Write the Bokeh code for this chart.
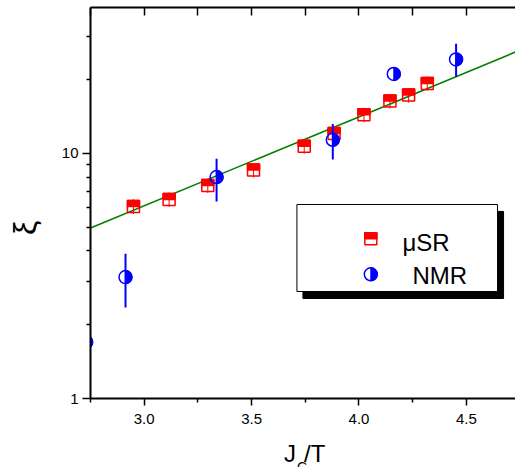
import math
from bokeh.plotting import figure
from bokeh.models import (Range1d, LogAxis, LinearAxis, FixedTicker,
                          PrintfTickFormatter, Label)
from bokeh.embed import file_html
from bokeh.resources import INLINE

# ---------------- data ----------------
musr_x = [2.95, 3.116, 3.296, 3.509, 3.745, 3.884, 4.023, 4.144, 4.231, 4.318]
musr_y = [6.08, 6.49, 7.40, 8.56, 10.71, 12.06, 14.38, 16.35, 17.3, 19.3]
musr_err = [0.42, 0.44, 0.50, 0.58, 0.73, 0.82, 0.98, 1.10, 1.18, 1.30]

nmr_x = [2.73, 2.913, 3.337, 3.878, 4.162, 4.452]
nmr_y = [1.70, 3.13, 8.01, 11.37, 21.1, 24.2]
nmr_lo = [float("nan"), 2.35, 6.37, 9.45, float("nan"), 20.6]
nmr_hi = [float("nan"), 3.90, 9.51, 13.2, float("nan"), 28.0]

fit_x = [2.75, 4.75]
fit_y = [4.96, 26.4]

x_ticks = [3.0, 3.5, 4.0, 4.5]
x_minor = [2.75, 3.25, 3.75, 4.25, 4.75]
y_ticks = [1, 10]
y_minor = [2, 3, 4, 5, 6, 7, 8, 9, 20, 30]

legend_labels = ["\u03bcSR", "NMR"]
x_title = ["J", "C", "/T"]
y_title = "\u03be"

# ---------------- layout ----------------
W, H = 515, 467
FL, FT, FB = 89, 7, 398          # frame left / top / bottom (canvas px)
X0, X1 = 2.75, 4.7286
Y0, Y1 = 1.0, 39.4
PX_PER_DEC = (FB - FT) / math.log10(Y1 / Y0)
HALF_UP = 10 ** (3.0 / PX_PER_DEC)   # 3 screen px upward on the log axis

FONT = "Liberation Sans"
RED = "#FF0000"
BLUE = "#0000FF"
GREEN = "#008000"

p = figure(width=W, height=H, x_range=Range1d(X0, X1), y_range=Range1d(Y0, Y1),
           y_axis_type="log", x_axis_location=None, y_axis_location=None,
           output_backend="svg", toolbar_location=None,
           min_border_left=FL, min_border_right=0, min_border_top=FT,
           min_border_bottom=H - FB)
p.outline_line_color = None
p.background_fill_color = "white"
p.border_fill_color = "white"
for g in list(p.center):
    if g.__class__.__name__ == "Grid":
        g.visible = False

# axes
yax = LogAxis(ticker=FixedTicker(ticks=y_ticks, minor_ticks=y_minor),
              formatter=PrintfTickFormatter(format="%d"))
yax.axis_line_width = 2
yax.major_tick_out = 8
yax.major_tick_in = 0
yax.minor_tick_out = 4
yax.minor_tick_in = 0
yax.major_tick_line_width = 1.5
yax.minor_tick_line_width = 1.5
yax.major_label_standoff = 4
yax.major_label_text_font = FONT
yax.major_label_text_font_size = "15px"
yax.major_label_text_color = "black"
p.add_layout(yax, "left")

xax = LinearAxis(ticker=FixedTicker(ticks=x_ticks, minor_ticks=x_minor),
                 formatter=PrintfTickFormatter(format="%.1f"))
xax.axis_line_width = 2
xax.major_tick_out = 7
xax.major_tick_in = 0
xax.minor_tick_out = 4
xax.minor_tick_in = 0
xax.major_tick_line_width = 1.5
xax.minor_tick_line_width = 1.5
xax.major_label_standoff = 8
xax.major_label_text_font = FONT
xax.major_label_text_font_size = "15px"
xax.major_label_text_color = "black"
p.add_layout(xax, "below")

tax = LinearAxis(ticker=FixedTicker(ticks=x_ticks + x_minor, minor_ticks=[]))
tax.axis_line_width = 2
tax.major_tick_out = 0
tax.major_tick_in = 8
tax.minor_tick_out = 0
tax.minor_tick_in = 0
tax.major_tick_line_width = 1.5
tax.major_label_text_font_size = "0px"
tax.major_label_text_color = None
tax.major_label_standoff = 0
p.add_layout(tax, "above")


def musr_marker(xs, ys):
    p.scatter(xs, ys, marker="square", size=12, fill_color=None,
              line_color=RED, line_width=1.5)
    p.rect(x=xs, y=[v * HALF_UP for v in ys], width=12, height=6,
           width_units="screen", height_units="screen",
           fill_color=RED, line_color=RED, line_width=1.5)


def nmr_marker(xs, ys):
    p.scatter(xs, ys, marker="circle", size=13, fill_color=None,
              line_color=BLUE, line_width=1.5)
    p.wedge(x=xs, y=ys, radius=6.5, radius_units="screen",
            start_angle=-math.pi / 2, end_angle=math.pi / 2,
            fill_color=BLUE, line_color=BLUE, line_width=1)


# fit line
p.line(fit_x, fit_y, line_color=GREEN, line_width=1.6)

# muSR
p.segment(x0=musr_x, y0=[y - e for y, e in zip(musr_y, musr_err)],
          x1=musr_x, y1=[y + e for y, e in zip(musr_y, musr_err)],
          line_color=RED, line_width=1)
musr_marker(musr_x, musr_y)

# NMR
nmr_marker(nmr_x, nmr_y)
p.segment(x0=nmr_x, y0=nmr_lo, x1=nmr_x, y1=nmr_hi, line_color=BLUE, line_width=2)

# legend box with shadow
p.quad(left=[3.739], right=[4.673], top=[5.80], bottom=[2.559],
       fill_color="black", line_color="black")
p.quad(left=[3.711], right=[4.645], top=[6.19], bottom=[2.733],
       fill_color="white", line_color="black", line_width=1)
musr_marker([4.055], [4.485])
nmr_marker([4.055], [3.213])
p.add_layout(Label(x=4.202, y=4.33, text=legend_labels[0], text_font=FONT,
                   text_font_size="24px", text_baseline="alphabetic", text_color="black"))
p.add_layout(Label(x=4.249, y=3.177, text=legend_labels[1], text_font=FONT,
                   text_font_size="24px", text_baseline="alphabetic", text_color="black"))

# axis titles: labels kept in side panels (not clipped by the frame),
# positioned through the plot's own scales
p.add_layout(Label(x=2.445, y=4.966, text=y_title, text_font=FONT,
                   text_font_size="32px", text_align="center", text_baseline="middle",
                   angle=math.pi / 2, text_color="black"), "left")
p.add_layout(Label(x=3.651, y=0.5964, text=x_title[0], text_font=FONT,
                   text_font_size="24px", text_baseline="alphabetic",
                   text_color="black"), "left")
p.add_layout(Label(x=3.711, y=0.5254, text=x_title[1], text_font=FONT,
                   text_font_size="14px", text_baseline="alphabetic",
                   text_color="black"), "left")
p.add_layout(Label(x=3.744, y=0.5964, text=x_title[2], text_font=FONT,
                   text_font_size="24px", text_baseline="alphabetic",
                   text_color="black"), "below")

open("out.html", "w").write(file_html(p, INLINE))
